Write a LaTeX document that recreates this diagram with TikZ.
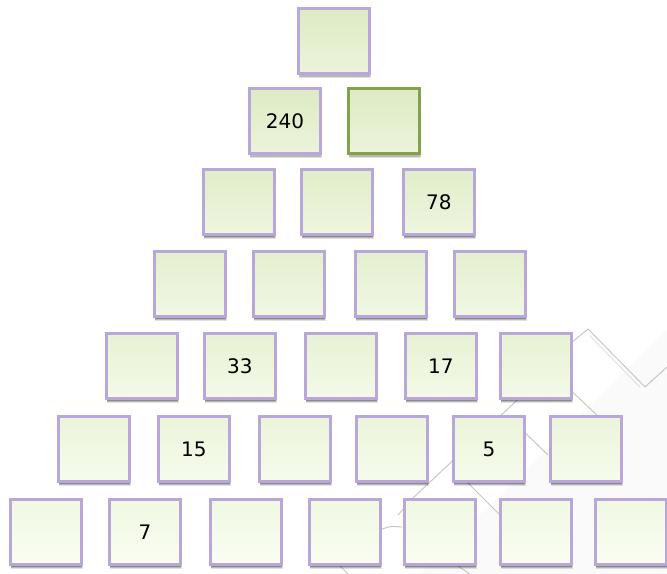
\documentclass[tikz,border=0pt]{standalone}
\usepackage{fontspec}
\setmainfont{DejaVu Sans}
\definecolor{topc}{HTML}{E3EFCB}
\definecolor{botc}{HTML}{F7FDEC}
\definecolor{lav}{HTML}{B9A7D9}
\definecolor{olive}{HTML}{84A24A}
\definecolor{bgline}{HTML}{C4C4C4}
\begin{document}
\begin{tikzpicture}[x=0.75pt,y=-0.75pt,
  cell/.style={minimum width=53.25pt,minimum height=48.75pt,inner sep=0pt,
    line width=2.1pt,draw=lav,font=\fontsize{15pt}{18pt}\selectfont,text=black},
  greencell/.style={cell,draw=olive,line width=2.2pt},
  bgl/.style={draw=bgline,line width=0.7pt,line cap=round,line join=round}]
\useasboundingbox (0,0) rectangle (667,574);
% faint background decoration
\fill[black,opacity=0.018] (420,574) -- (667,330) -- (667,574) -- cycle;
\draw[bgl] (560,352) -- (588,329) -- (645,387) -- (667,367);
\draw[bgl,opacity=0.5] (590,336) -- (640,387);
\draw[bgl] (530,388) -- (413,498) -- (398,515);
\draw[bgl] (465,480) -- (500,515);
\draw[bgl] (520,428) -- (548,455);
\draw[bgl] (565,385) -- (600,418);
\draw[bgl] (380,530) .. controls (390,526) .. (402,527);
\draw[bgl] (340,566) -- (348,574);
\draw[bgl] (458,566) -- (470,574);
\newcommand{\cellnode}[5]{% name, x, y, text, style
  \fill[black,opacity=0.12] (#2+2,#3+6) rectangle (#2+74,#3+71);
  \fill[black,opacity=0.18] (#2+2,#3+5) rectangle (#2+73,#3+70);
  \fill[black,opacity=0.25] (#2+1.5,#3+4) rectangle (#2+72.5,#3+68.5);
  \node[#5,top color=rowc!94!olive,bottom color=rowc!70!white,anchor=north west] (#1) at (#2,#3) {#4};}
\colorlet{rowc}{topc}
\cellnode{r1a}{297}{7}{}{cell}
\cellnode{r2a}{248}{87}{240}{cell}
\cellnode{r2b}{347}{87}{}{greencell}
\colorlet{rowc}{topc!80!botc}
\cellnode{r3a}{202}{168}{}{cell}
\cellnode{r3b}{300}{168}{}{cell}
\cellnode{r3c}{402}{168}{78}{cell}
\colorlet{rowc}{topc!62!botc}
\cellnode{r4a}{153}{250}{}{cell}
\cellnode{r4b}{252}{250}{}{cell}
\cellnode{r4c}{354}{250}{}{cell}
\cellnode{r4d}{453}{250}{}{cell}
\colorlet{rowc}{topc!45!botc}
\cellnode{r5a}{105}{332}{}{cell}
\cellnode{r5b}{203}{332}{33}{cell}
\cellnode{r5c}{304}{332}{}{cell}
\cellnode{r5d}{404}{332}{17}{cell}
\cellnode{r5e}{499}{332}{}{cell}
\colorlet{rowc}{topc!25!botc}
\cellnode{r6a}{57}{415}{}{cell}
\cellnode{r6b}{157}{415}{15}{cell}
\cellnode{r6c}{258}{415}{}{cell}
\cellnode{r6d}{355}{415}{}{cell}
\cellnode{r6e}{452}{415}{5}{cell}
\cellnode{r6f}{549}{415}{}{cell}
\colorlet{rowc}{botc}
\cellnode{r7a}{9}{498}{}{cell}
\cellnode{r7b}{108}{498}{7}{cell}
\cellnode{r7c}{209}{498}{}{cell}
\cellnode{r7d}{308}{498}{}{cell}
\cellnode{r7e}{403}{498}{}{cell}
\cellnode{r7f}{499}{498}{}{cell}
\cellnode{r7g}{594}{498}{}{cell}
\end{tikzpicture}
\end{document}
